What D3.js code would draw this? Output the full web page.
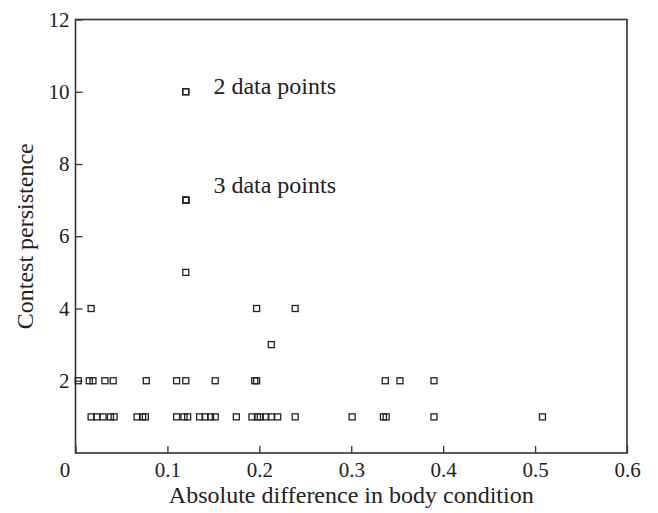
<!DOCTYPE html>
<html lang="en">
<head>
    <meta charset="UTF-8">
    <title>Contest persistence vs body condition</title>
    <script src="https://d3js.org/d3.v7.min.js"></script>
    <style>
        body { margin: 0; background: #fff; }
        svg text { font-family: "Liberation Serif", "DejaVu Serif", serif; fill: #222; }
    </style>
</head>
<body>
    <div id="chart"></div>
    <script>
        // Data
        const bodyDiff = [
            // persistence 1
            0.017, 0.023, 0.030, 0.038, 0.042, 0.067, 0.073, 0.076, 0.110, 0.118, 0.122,
            0.135, 0.141, 0.147, 0.152, 0.175, 0.192, 0.198, 0.201, 0.207, 0.213, 0.220,
            0.239, 0.301, 0.335, 0.338, 0.390, 0.508,
            // persistence 2
            0.003, 0.015, 0.019, 0.032, 0.041, 0.077, 0.110, 0.120, 0.152, 0.195, 0.197,
            0.337, 0.353, 0.390,
            // persistence 3, 4, 5
            0.213, 0.017, 0.197, 0.239, 0.120,
            // persistence 7 (3 points), 10 (2 points)
            0.120, 0.120, 0.120, 0.120, 0.120
        ];
        const persistence = [
            1, 1, 1, 1, 1, 1, 1, 1, 1, 1, 1,
            1, 1, 1, 1, 1, 1, 1, 1, 1, 1, 1,
            1, 1, 1, 1, 1, 1,
            2, 2, 2, 2, 2, 2, 2, 2, 2, 2, 2,
            2, 2, 2,
            3, 4, 4, 4, 5,
            7, 7, 7, 10, 10
        ];
        const xTicks = [0, 0.1, 0.2, 0.3, 0.4, 0.5, 0.6];
        const yTicks = [2, 4, 6, 8, 10, 12];
        const noteText = ['2 data points', '3 data points'];
        const noteX = [0.15, 0.15];
        const noteY = [9.95, 7.2];

        const width = 658;
        const height = 513;
        const margin = { top: 19.5, right: 31, bottom: 60, left: 75.5 };

        const svg = d3.select('#chart')
            .append('svg')
            .attr('width', width)
            .attr('height', height);

        const x = d3.scaleLinear()
            .domain([0, 0.6])
            .range([margin.left, width - margin.right]);

        const y = d3.scaleLinear()
            .domain([0, 12])
            .range([height - margin.bottom, margin.top]);

        // frame
        svg.append('rect')
            .attr('x', x(0))
            .attr('y', y(12))
            .attr('width', x(0.6) - x(0))
            .attr('height', y(0) - y(12))
            .attr('fill', 'none')
            .attr('stroke', '#333')
            .attr('stroke-width', 1.6);

        // X axis, ticks pointing inward
        const xAxis = svg.append('g')
            .attr('transform', `translate(0,${y(0)})`)
            .call(d3.axisBottom(x).tickValues(xTicks).tickSizeInner(-7).tickSizeOuter(0)
                .tickPadding(9).tickFormat(d => d === 0 ? '0' : d3.format('.1f')(d)));
        xAxis.select('.domain').remove();
        xAxis.selectAll('line').attr('stroke', '#333').attr('stroke-width', 1.3);
        xAxis.selectAll('text').attr('font-size', 21).attr('fill', '#222');
        xAxis.selectAll('.tick').filter(d => d === 0).select('text').attr('dx', -11);

        // Y axis, ticks pointing inward
        const yAxis = svg.append('g')
            .attr('transform', `translate(${x(0)},0)`)
            .call(d3.axisLeft(y).tickValues(yTicks).tickSizeInner(-7).tickSizeOuter(0)
                .tickPadding(6));
        yAxis.select('.domain').remove();
        yAxis.selectAll('line').attr('stroke', '#333').attr('stroke-width', 1.3);
        yAxis.selectAll('text').attr('font-size', 21).attr('fill', '#222');

        // points as open squares
        const s = 6;
        svg.append('g')
            .selectAll('rect')
            .data(bodyDiff.map((d, i) => ({ x: d, y: persistence[i] })))
            .enter().append('rect')
            .attr('x', d => x(d.x) - s / 2)
            .attr('y', d => y(d.y) - s / 2)
            .attr('width', s)
            .attr('height', s)
            .attr('fill', 'none')
            .attr('stroke', '#222')
            .attr('stroke-width', 1.3);

        // annotations
        svg.append('g')
            .selectAll('text')
            .data(noteText)
            .enter().append('text')
            .attr('x', (d, i) => x(noteX[i]))
            .attr('y', (d, i) => y(noteY[i]))
            .attr('font-size', 24)
            .text(d => d);

        // axis titles
        svg.append('text')
            .attr('x', (x(0) + x(0.6)) / 2)
            .attr('y', 503)
            .attr('text-anchor', 'middle')
            .attr('font-size', 24)
            .text('Absolute difference in body condition');

        svg.append('text')
            .attr('transform', `translate(33,${(y(0) + y(12)) / 2}) rotate(-90)`)
            .attr('text-anchor', 'middle')
            .attr('font-size', 24)
            .text('Contest persistence');
    </script>
</body>
</html>
